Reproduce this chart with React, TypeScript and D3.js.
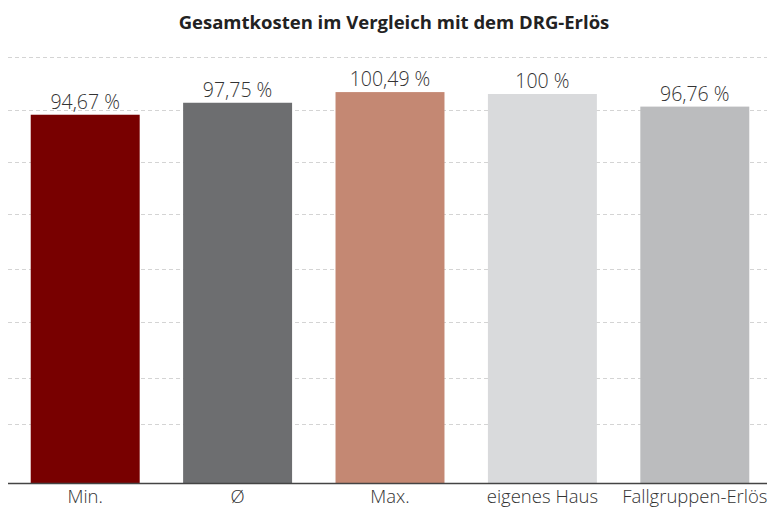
import { useEffect, useRef } from 'react';
import * as d3 from 'd3';

const categories = ['Min.', 'Ø', 'Max.', 'eigenes Haus', 'Fallgruppen-Erlös'];
const values = [94.67, 97.75, 100.49, 100, 96.76];
const valueLabels = ['94,67 %', '97,75 %', '100,49 %', '100 %', '96,76 %'];
const barColors = ['#780000', '#6d6e70', '#c48873', '#d9dadc', '#bbbcbe'];
// dashed guide lines (no axis labels shown)
const gridValues = [15.2, 27, 41.4, 55, 69.2, 82.5, 95.9, 109.5];

const title = 'Gesamtkosten im Vergleich mit dem DRG-Erlös';

export default function App() {
  const svgRef = useRef<SVGSVGElement>(null);
  const width = 767;
  const height = 509;

  useEffect(() => {
    if (!svgRef.current) return;
    const svg = d3.select(svgRef.current);
    svg.selectAll('*').remove();

    const font = '"Open Sans", "Noto Sans", sans-serif';
    const baseY = 483;
    const lineLeft = 8;

    const x = d3.scaleBand<string>()
      .domain(categories)
      .range([9, 771])
      .paddingInner(0.285)
      .paddingOuter(0.1425);

    const y = d3.scaleLinear()
      .domain([0, 110])
      .range([baseY, baseY - 389 * 1.1]);

    // Title
    svg.append('text')
      .attr('x', 394)
      .attr('y', 29)
      .attr('text-anchor', 'middle')
      .attr('font-family', font)
      .attr('font-weight', 700)
      .attr('font-size', '18.5px')
      .attr('fill', '#222')
      .text(title);

    // Grid lines
    svg.append('g')
      .selectAll('line')
      .data(gridValues)
      .enter()
      .append('line')
      .attr('x1', lineLeft)
      .attr('x2', width)
      .attr('y1', d => Math.round(y(d)) + 0.5)
      .attr('y2', d => Math.round(y(d)) + 0.5)
      .attr('stroke', '#d4d4d4')
      .attr('stroke-width', 1)
      .attr('stroke-dasharray', '4,3');

    // Bars
    svg.append('g')
      .selectAll('rect')
      .data(values)
      .enter()
      .append('rect')
      .attr('x', (_, i) => x(categories[i]) as number)
      .attr('y', d => y(d))
      .attr('width', x.bandwidth())
      .attr('height', d => baseY - y(d))
      .attr('fill', (_, i) => barColors[i]);

    // Value labels
    svg.append('g')
      .selectAll('text')
      .data(values)
      .enter()
      .append('text')
      .attr('x', (_, i) => (x(categories[i]) as number) + x.bandwidth() / 2)
      .attr('y', d => y(d) - 6)
      .attr('text-anchor', 'middle')
      .attr('font-family', font)
      .attr('font-weight', 300)
      .attr('font-size', '19.5px')
      .attr('fill', '#333')
      .text((_, i) => valueLabels[i]);

    // Baseline
    svg.append('line')
      .attr('x1', lineLeft)
      .attr('x2', width)
      .attr('y1', baseY + 0.5)
      .attr('y2', baseY + 0.5)
      .attr('stroke', '#444')
      .attr('stroke-width', 1.5);

    // Category labels
    svg.append('g')
      .selectAll('text')
      .data(categories)
      .enter()
      .append('text')
      .attr('x', d => (x(d) as number) + x.bandwidth() / 2)
      .attr('y', 503)
      .attr('text-anchor', 'middle')
      .attr('font-family', font)
      .attr('font-weight', 300)
      .attr('font-size', '18.5px')
      .attr('fill', '#333')
      .text(d => d);
  }, []);

  return (
    <svg
      ref={svgRef}
      width={width}
      height={height}
      style={{ position: 'absolute', left: 0, top: 0, background: '#fff' }}
    />
  );
}
